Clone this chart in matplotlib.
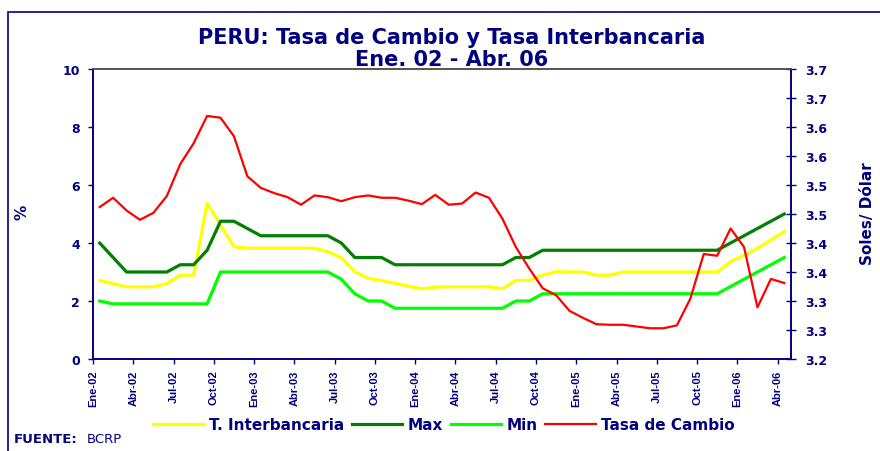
import numpy as np
import matplotlib
matplotlib.use("Agg")
from matplotlib import pyplot as plt
from matplotlib.patches import Rectangle

plt.rcParams['font.family'] = ['DejaVu Sans']

navy = '#000080'

# Ene-02 .. Abr-06, mensual (52 meses)
xtick_labels = ["Ene-02", "Abr-02", "Jul-02", "Oct-02",
                "Ene-03", "Abr-03", "Jul-03", "Oct-03",
                "Ene-04", "Abr-04", "Jul-04", "Oct-04",
                "Ene-05", "Abr-05", "Jul-05", "Oct-05",
                "Ene-06", "Abr-06"]

interbancaria = [2.71, 2.60, 2.49, 2.49, 2.49, 2.60, 2.89, 2.89, 5.37, 4.62, 3.87, 3.82, 3.82,
                 3.82, 3.82, 3.82, 3.82, 3.70, 3.49, 3.01, 2.78, 2.70, 2.61, 2.51, 2.42, 2.48,
                 2.49, 2.49, 2.49, 2.49, 2.42, 2.71, 2.71, 2.89, 3.01, 3.00, 3.00, 2.89, 2.89,
                 3.00, 3.00, 3.00, 3.00, 3.00, 3.00, 3.00, 3.00, 3.36, 3.58, 3.82, 4.10, 4.39]

maximo = [4.0, 3.5, 3.0, 3.0, 3.0, 3.0, 3.25, 3.25, 3.75, 4.75, 4.75, 4.5, 4.25,
          4.25, 4.25, 4.25, 4.25, 4.25, 4.0, 3.5, 3.5, 3.5, 3.25, 3.25, 3.25, 3.25,
          3.25, 3.25, 3.25, 3.25, 3.25, 3.5, 3.5, 3.75, 3.75, 3.75, 3.75, 3.75, 3.75,
          3.75, 3.75, 3.75, 3.75, 3.75, 3.75, 3.75, 3.75, 4.0, 4.25, 4.5, 4.75, 5.0]

minimo = [2.0, 1.9, 1.9, 1.9, 1.9, 1.9, 1.9, 1.9, 1.9, 3.0, 3.0, 3.0, 3.0,
          3.0, 3.0, 3.0, 3.0, 3.0, 2.75, 2.25, 2.0, 2.0, 1.75, 1.75, 1.75, 1.75,
          1.75, 1.75, 1.75, 1.75, 1.75, 2.0, 2.0, 2.25, 2.25, 2.25, 2.25, 2.25, 2.25,
          2.25, 2.25, 2.25, 2.25, 2.25, 2.25, 2.25, 2.25, 2.5, 2.75, 3.0, 3.25, 3.5]

tasa_cambio = [3.462, 3.478, 3.456, 3.440, 3.452, 3.481, 3.536, 3.572, 3.619, 3.616, 3.584, 3.515, 3.495,
               3.486, 3.479, 3.466, 3.482, 3.479, 3.472, 3.479, 3.482, 3.478, 3.478, 3.473, 3.467, 3.483,
               3.466, 3.468, 3.487, 3.478, 3.442, 3.393, 3.356, 3.322, 3.310, 3.283, 3.271, 3.260, 3.259,
               3.259, 3.256, 3.253, 3.253, 3.258, 3.304, 3.381, 3.378, 3.425, 3.393, 3.289, 3.338, 3.331]

# eje derecho: 3.20 .. 3.70 cada 0.05, con un decimal
right_ticks = [3.20, 3.25, 3.30, 3.35, 3.40, 3.45, 3.50, 3.55, 3.60, 3.65, 3.70]
right_labels = ["3.2", "3.3", "3.3", "3.4", "3.4", "3.5", "3.5", "3.6", "3.6", "3.7", "3.7"]

n = len(tasa_cambio)
x = np.arange(n) + 0.5  # puntos al centro de cada mes

fig = plt.figure(figsize=(8.8, 4.52), dpi=100)
ax = fig.add_axes([93 / 880, 1 - 360 / 452, 698 / 880, 290 / 452])
ax2 = ax.twinx()

l1, = ax.plot(x, interbancaria, color='#FFFF00', lw=2.3, solid_joinstyle='round')
l2, = ax.plot(x, maximo, color='#008000', lw=2.3, solid_joinstyle='round')
l3, = ax.plot(x, minimo, color='#00FF00', lw=2.3, solid_joinstyle='round')
l4, = ax2.plot(x, tasa_cambio, color='#FF0000', lw=1.6, solid_joinstyle='round')

ax.set_xlim(0, n)
ax.set_ylim(0, 10)
ax2.set_ylim(3.2, 3.7)

ax.set_xticks(np.arange(0, n, 3))
ax.set_xticklabels(xtick_labels, rotation=90, fontsize=8, fontweight='bold', color=navy,
                   family='Liberation Sans')
ax.set_yticks([0, 2, 4, 6, 8, 10])
ax.set_yticklabels(['0', '2', '4', '6', '8', '10'], fontsize=9, fontweight='bold', color=navy)
ax2.set_yticks(right_ticks)
ax2.set_yticklabels(right_labels, fontsize=9, fontweight='bold', color=navy)

ax.tick_params(axis='x', direction='out', length=3.5, width=1, color=navy, pad=4)
ax.tick_params(axis='y', direction='out', length=3.5, width=1, color=navy, pad=6)
ax2.tick_params(axis='y', direction='inout', length=7, width=1, color=navy, pad=7)

for a in (ax, ax2):
    a.spines['left'].set_color(navy)
    a.spines['bottom'].set_color(navy)
    a.spines['right'].set_color(navy)
    a.spines['top'].set_color('#555555')
    for s in a.spines.values():
        s.set_linewidth(1.2)

fig.text(22 / 880, 1 - 212 / 452, '%', rotation=90, ha='center', va='center',
         fontsize=11, fontweight='bold', color=navy)
fig.text(867 / 880, 1 - 214 / 452, 'Soles/ Dólar', rotation=90, ha='center', va='center',
         fontsize=11, fontweight='bold', color=navy)

fig.text(452 / 880, 1 - 38 / 452, 'PERU: Tasa de Cambio y Tasa Interbancaria',
         ha='center', va='center', fontsize=15, fontweight='bold', color=navy)
fig.text(452 / 880, 1 - 60 / 452, 'Ene. 02 - Abr. 06',
         ha='center', va='center', fontsize=15, fontweight='bold', color=navy)

fig.legend([l1, l2, l3, l4], ['T. Interbancaria', 'Max', 'Min', 'Tasa de Cambio'],
           loc='center', bbox_to_anchor=(444 / 880, 1 - 426 / 452), ncol=4, frameon=False,
           handlelength=3.3, handletextpad=0.35, columnspacing=0.5,
           prop={'weight': 'bold', 'size': 11}, labelcolor=navy)

fig.text(14 / 880, 1 - 440 / 452, 'FUENTE:', ha='left', va='center',
         fontsize=9.5, fontweight='bold', color=navy)
fig.text(87 / 880, 1 - 440 / 452, 'BCRP', ha='left', va='center',
         fontsize=9.5, color=navy)

# marco exterior
fig.patches.append(Rectangle((8 / 880, -0.1), 1.2, 1.1 - 13 / 452, transform=fig.transFigure,
                             fill=False, edgecolor=navy, lw=1.2))

fig.savefig('out.png', dpi=100)
